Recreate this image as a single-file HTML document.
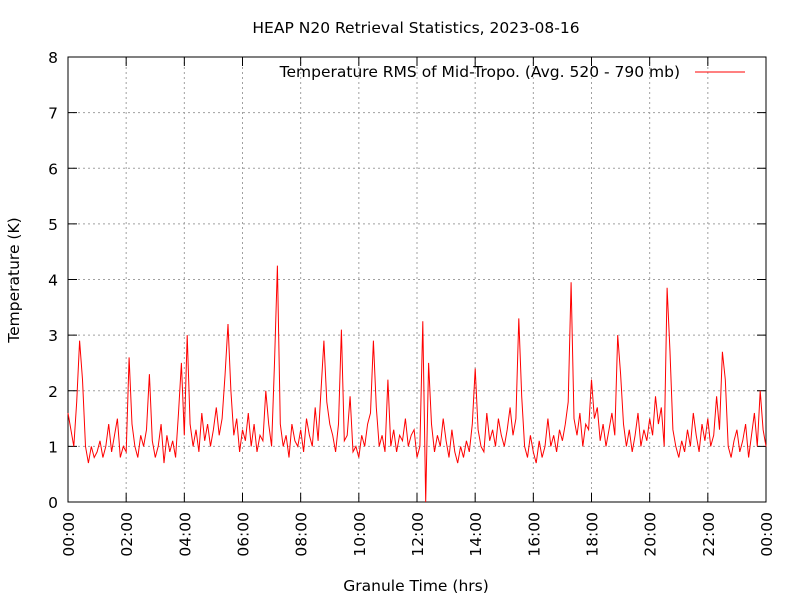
<!DOCTYPE html>
<html><head><meta charset="utf-8"><style>
body{margin:0;background:#fff;}
svg text{font-family:"DejaVu Sans","Liberation Sans",sans-serif;font-size:15.5px;fill:#000;}
</style></head><body>
<svg id="chart" width="800" height="600" xmlns="http://www.w3.org/2000/svg">
<rect width="800" height="600" fill="#fff"/>
<text x="416" y="33" text-anchor="middle">HEAP N20 Retrieval Statistics, 2023-08-16</text>
<text x="416" y="591" text-anchor="middle">Granule Time (hrs)</text>
<text transform="translate(19,280) rotate(-90)" text-anchor="middle">Temperature (K)</text>
<g id="grid"></g><g id="axes"></g><g id="series"></g>
<g>
<text x="680" y="77" text-anchor="end">Temperature RMS of Mid-Tropo. (Avg. 520 - 790 mb)</text>
<line x1="695" y1="72" x2="745" y2="72" stroke="#f00" stroke-width="1"/>
</g>
</svg>
<script>
const yTicks=[0,1,2,3,4,5,6,7,8];
const xTickHours=[0,2,4,6,8,10,12,14,16,18,20,22,24];
const xTickLabels=["00:00","02:00","04:00","06:00","08:00","10:00","12:00","14:00","16:00","18:00","20:00","22:00","00:00"];
const sampleStepHours=0.1;
const rmsValues=[
1.6,1.3,1.0,1.8,2.9,2.2,1.0,0.7,1.0,0.8,
0.9,1.1,0.8,1.0,1.4,0.9,1.2,1.5,0.8,1.0,
0.9,2.6,1.4,1.0,0.8,1.2,1.0,1.3,2.3,1.1,
0.8,1.0,1.4,0.7,1.2,0.9,1.1,0.8,1.6,2.5,
1.2,3.0,1.4,1.0,1.3,0.9,1.6,1.1,1.4,1.0,
1.3,1.7,1.2,1.5,2.3,3.2,2.0,1.2,1.5,0.9,
1.3,1.1,1.6,1.0,1.4,0.9,1.2,1.1,2.0,1.4,
1.0,2.5,4.25,1.4,1.0,1.2,0.8,1.4,1.1,1.0,
1.3,0.9,1.5,1.2,1.0,1.7,1.1,2.0,2.9,1.8,
1.4,1.2,0.9,1.4,3.1,1.1,1.2,1.9,0.9,1.0,
0.8,1.2,1.0,1.4,1.6,2.9,1.7,1.0,1.2,0.9,
2.2,1.0,1.3,0.9,1.2,1.1,1.5,1.0,1.2,1.3,
0.8,1.0,3.25,0.0,2.5,1.4,0.9,1.2,1.0,1.5,
1.1,0.8,1.3,0.9,0.7,1.0,0.8,1.1,0.9,1.4,
2.4,1.3,1.0,0.9,1.6,1.1,1.3,1.0,1.5,1.2,
1.0,1.3,1.7,1.2,1.5,3.3,1.9,1.0,0.8,1.2,
0.9,0.7,1.1,0.8,1.0,1.5,1.0,1.2,0.9,1.3,
1.1,1.4,1.8,3.95,1.5,1.2,1.6,1.0,1.4,1.3,
2.2,1.5,1.7,1.1,1.4,1.0,1.3,1.6,1.2,3.0,
2.3,1.4,1.0,1.3,0.9,1.2,1.6,1.0,1.3,1.1,
1.5,1.2,1.9,1.4,1.7,1.0,3.85,2.7,1.3,1.0,
0.8,1.1,0.9,1.3,1.0,1.6,1.2,0.9,1.4,1.1,
1.5,1.0,1.2,1.9,1.3,2.7,2.2,1.0,0.8,1.1,
1.3,0.9,1.1,1.4,0.8,1.2,1.6,1.0,2.0,1.3,
1.0];
const L=68,R=766,T=57,B=502;
const xS=h=>L+(R-L)*h/24;
const yS=v=>B-(B-T)*v/8;
const NS="http://www.w3.org/2000/svg";
function mk(tag,attrs,parent){const e=document.createElementNS(NS,tag);for(const k in attrs)e.setAttribute(k,attrs[k]);parent.appendChild(e);return e;}
const grid=document.getElementById('grid'),axes=document.getElementById('axes'),series=document.getElementById('series');
yTicks.forEach(v=>{
  const y=yS(v);
  if(v>0&&v<8){const g=mk('line',{x1:L,x2:R,y1:y,y2:y,stroke:'#a0a0a0','stroke-dasharray':'2,3'},grid);
  
  }
  mk('line',{x1:L,x2:L+9,y1:y,y2:y,stroke:'#000'},axes);
  mk('line',{x1:R,x2:R-9,y1:y,y2:y,stroke:'#000'},axes);
  const t=mk('text',{x:L-10,y:y+6,'text-anchor':'end'},axes);
  t.textContent=v;
  
  
});
xTickHours.forEach((h,i)=>{
  const x=xS(h);
  if(h>0&&h<24){const g=mk('line',{x1:x,x2:x,y1:T,y2:B,stroke:'#a0a0a0','stroke-dasharray':'2,3'},grid);
  
  }
  mk('line',{x1:x,x2:x,y1:B,y2:B-9,stroke:'#000'},axes);
  mk('line',{x1:x,x2:x,y1:T,y2:T+9,stroke:'#000'},axes);
  const t=mk('text',{transform:`translate(${x+6},${B+10}) rotate(-90)`,'text-anchor':'end'},axes);
  t.textContent=xTickLabels[i];
  
  
});
const frame=mk('rect',{x:L,y:T,width:R-L,height:B-T,fill:'none',stroke:'#000'},axes);


const pts=rmsValues.map((v,i)=>xS(i*sampleStepHours).toFixed(1)+','+yS(v).toFixed(1)).join(' ');
const line=mk('polyline',{points:pts,fill:'none',stroke:'#f00','stroke-width':1},series);


</script>
</body></html>
